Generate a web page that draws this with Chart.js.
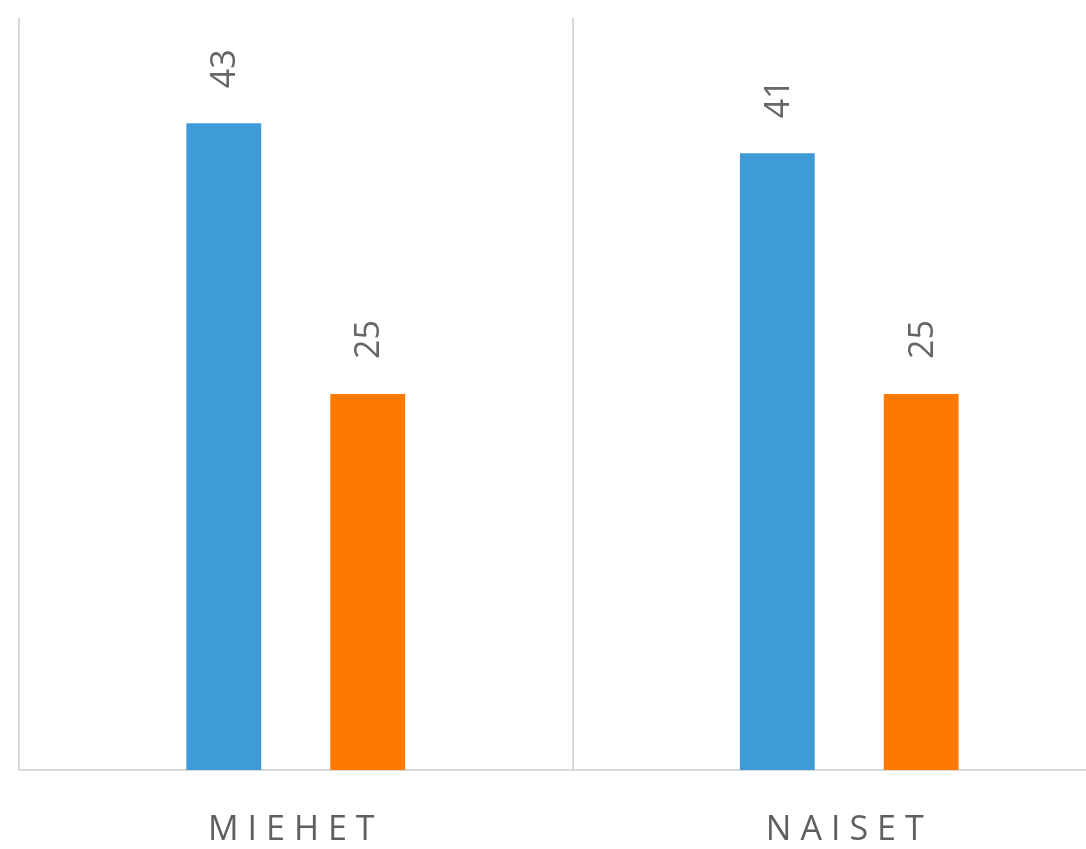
<!DOCTYPE html>
<html>
<head>
<meta charset="utf-8">
<script src="https://cdn.jsdelivr.net/npm/chart.js@4"></script>
<style>
  html, body { margin: 0; padding: 0; background: #fff; overflow: hidden; }
  #wrap { position: absolute; left: 0; top: 0; width: 1126px; height: 849px; }
</style>
</head>
<body>
<div id="wrap"><canvas id="chart"></canvas></div>
<script>
// chart values
const categories = ['MIEHET', 'NAISET']
const blueValues = [43, 41]
const orangeValues = [25, 25]
const yMax = 50

const gridColor = '#d9d9d9'
const textColor = '#666666'

// rotated value labels above each bar
const valueLabels = {
  id: 'valueLabels',
  afterDatasetsDraw(chart) {
    const ctx = chart.ctx
    ctx.save()
    ctx.letterSpacing = '0px'
    ctx.font = '34px "Open Sans"'
    ctx.fillStyle = textColor
    ctx.textAlign = 'left'
    ctx.textBaseline = 'middle'
    chart.data.datasets.forEach((ds, i) => {
      chart.getDatasetMeta(i).data.forEach((bar, j) => {
        ctx.save()
        ctx.translate(bar.x + 2, bar.y - 35)
        ctx.rotate(-Math.PI / 2)
        ctx.fillText(String(ds.data[j]), 0, 0)
        ctx.restore()
      })
    })
    ctx.restore()
  }
}

// wide spacing for the category names
const spacedTicks = {
  id: 'spacedTicks',
  beforeDraw(chart) { chart.ctx.letterSpacing = '9px' },
  afterDraw(chart) { chart.ctx.letterSpacing = '0px' }
}

new Chart(document.getElementById('chart'), {
  type: 'bar',
  data: {
    labels: categories,
    datasets: [
      {
        label: 'sarja 1',
        data: blueValues,
        backgroundColor: '#3f9ad8',
        categoryPercentage: 0.52,
        barPercentage: 0.52
      },
      {
        label: 'sarja 2',
        data: orangeValues,
        backgroundColor: '#ff7800',
        categoryPercentage: 0.52,
        barPercentage: 0.52
      }
    ]
  },
  options: {
    responsive: true,
    maintainAspectRatio: false,
    animation: false,
    layout: { padding: { left: 19, top: 18, right: 0, bottom: 0 } },
    plugins: {
      legend: { display: false },
      tooltip: { enabled: false }
    },
    scales: {
      x: {
        grid: { color: gridColor, lineWidth: 2, drawTicks: false, offset: true },
        border: { color: gridColor, width: 2 },
        ticks: {
          color: '#5f5f5f',
          font: { family: 'Open Sans', size: 34 },
          padding: 40
        },
        afterFit(scale) { scale.height = 79 }
      },
      y: {
        display: false,
        min: 0,
        max: yMax
      }
    }
  },
  plugins: [valueLabels, spacedTicks]
})
</script>
</body>
</html>
